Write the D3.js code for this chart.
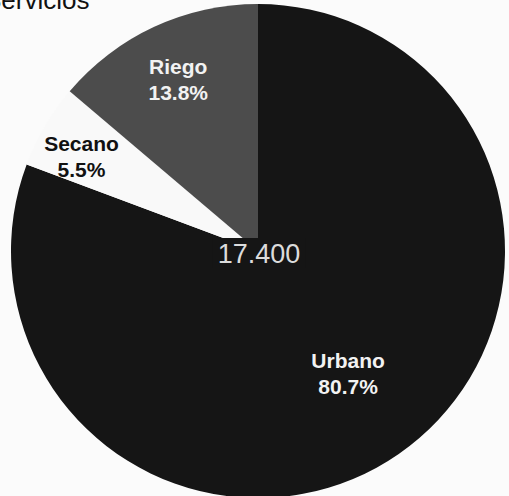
<!DOCTYPE html>
<html><head><meta charset="utf-8">
<script src="https://cdn.jsdelivr.net/npm/d3@7"></script>
<style>html,body{margin:0;padding:0;background:#fbfbfb;overflow:hidden}</style>
</head><body>
<svg id="c" width="509" height="496"></svg>
<script>
const title = "Servicios";
const categories = ["Urbano", "Secano", "Riego"];
const values = [80.7, 5.5, 13.8];
const percentLabels = ["80.7%", "5.5%", "13.8%"];
const totalLabel = "17.400";
const colors = ["#151515", "#f9f9f9", "#4c4c4c"];
const labelColors = ["#f2f2f2", "#111111", "#f2f2f2"];

const svg = d3.select("#c");
const cx = 258, cy = 251, r = 247;

svg.append("text").attr("x", -16).attr("y", 9)
  .attr("font-family", "Liberation Sans, Arial, sans-serif")
  .attr("font-size", 26).attr("fill", "#111").text(title);

const data = categories.map((c, i) => ({name: c, value: values[i], pct: percentLabels[i], i}));
const pie = d3.pie().sort(null).value(d => d.value);
const arcs = pie(data);
const arc = d3.arc().innerRadius(0).outerRadius(r);
const g = svg.append("g").attr("transform", `translate(${cx},${cy})`);
g.selectAll("path").data(arcs).join("path")
  .attr("d", arc).attr("fill", d => colors[d.data.i]);

// label positions along each wedge's bisector (radius fraction per wedge)
const labelRadius = [0.64, 0.81, 0.74];
const labelShift = [[0, 0], [-4, 14], [-3, 2]];
arcs.forEach(a => {
  const i = a.data.i;
  const ang = (a.startAngle + a.endAngle) / 2;
  const rr = r * labelRadius[i];
  const x = Math.sin(ang) * rr + labelShift[i][0], y = -Math.cos(ang) * rr + labelShift[i][1];
  const t = g.append("text").attr("text-anchor", "middle")
    .attr("font-family", "Liberation Sans, Arial, sans-serif")
    .attr("font-weight", "bold").attr("font-size", 21)
    .attr("fill", labelColors[i]);
  t.append("tspan").attr("x", x).attr("y", y - 13).text(a.data.name);
  t.append("tspan").attr("x", x).attr("y", y + 13).text(a.data.pct);
});

const tb = g.append("text").attr("text-anchor", "middle").attr("x", 1).attr("y", 12)
  .attr("font-family", "Liberation Sans, Arial, sans-serif")
  .attr("font-size", 27).attr("fill", "#dcdcdc").text(totalLabel);
const bb = tb.node().getBBox();
g.insert("rect", "text").attr("x", bb.x - 5).attr("y", -13).attr("width", bb.width + 10).attr("height", 30).attr("fill", "#151515");
</script>
</body></html>
